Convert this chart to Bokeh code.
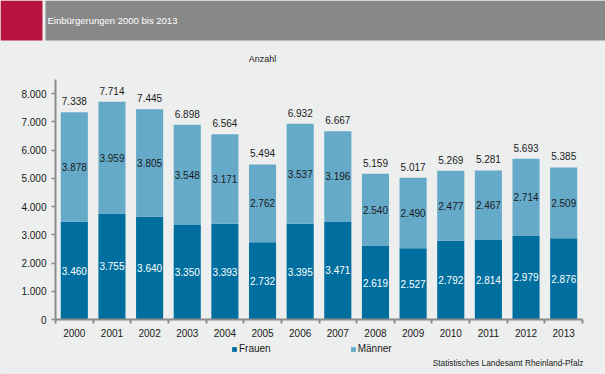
from bokeh.plotting import figure
from bokeh.models import ColumnDataSource, Range1d, FixedTicker, Label, Legend, LegendItem
from bokeh.layouts import column
from bokeh.embed import file_html
from bokeh.resources import INLINE
from bokeh.core.properties import value

# ---- data ----
years = ["2000", "2001", "2002", "2003", "2004", "2005", "2006",
         "2007", "2008", "2009", "2010", "2011", "2012", "2013"]
frauen = [3460, 3755, 3640, 3350, 3393, 2732, 3395, 3471, 2619, 2527, 2792, 2814, 2979, 2876]
maenner = [3878, 3959, 3805, 3548, 3171, 2762, 3537, 3196, 2540, 2490, 2477, 2467, 2714, 2509]
y_ticks = [0, 1000, 2000, 3000, 4000, 5000, 6000, 7000, 8000]
series_names = ["Frauen", "Männer"]

title_text = "Einbürgerungen 2000 bis 2013"
unit_text = "Anzahl"
source_text = "Statistisches Landesamt Rheinland-Pfalz"

# ---- style ----
BG = "#EDEFEE"
DARK = "#006FA0"
LIGHT = "#66AACA"
RED = "#B8133F"
GRAY = "#888888"
AXIS = "#8C8C8C"
TXT = "#1A1A1A"
FONT = "Liberation Sans"
W = 605


def de(n):
    return f"{n:,}".replace(",", ".")


def plain(fig):
    fig.grid.visible = False
    return fig


idx = list(range(len(years)))
total = [f + m for f, m in zip(frauen, maenner)]
src = ColumnDataSource(dict(
    x=idx, f=frauen, m=maenner, tot=total,
    fmid=[f / 2 for f in frauen],
    mmid=[f + m / 2 for f, m in zip(frauen, maenner)],
    flab=[de(v) for v in frauen],
    mlab=[de(v) for v in maenner],
    tlab=[de(v) for v in total],
))

# ---- header (title bar + unit) ----
HH = 79
header = plain(figure(width=W, height=HH, x_range=Range1d(0, W), y_range=Range1d(0, HH),
                      toolbar_location=None, output_backend="svg", min_border=0,
                      x_axis_location=None, y_axis_location=None,
                      background_fill_color=BG, border_fill_color=BG, outline_line_color=None))
header.frame_align = False
header.quad(left=[0], right=[42], bottom=[HH - 40], top=[HH], fill_color=RED, line_color=None)
header.quad(left=[45], right=[W], bottom=[HH - 40], top=[HH], fill_color=GRAY, line_color=None)
header.add_layout(Label(x=47, y=HH - 20, text=title_text, text_color="white",
                        text_font=FONT, text_font_size="9.5px", text_baseline="middle"))
header.add_layout(Label(x=262, y=HH - 58, text=unit_text, text_color=TXT, text_align="center",
                        text_font=FONT, text_font_size="9px", text_baseline="middle"))

# ---- chart ----
p = plain(figure(width=W, height=263, x_range=Range1d(-0.5, len(years) - 0.5), y_range=Range1d(0, 8500),
                 toolbar_location=None, output_backend="svg",
                 background_fill_color=BG, border_fill_color=BG, outline_line_color=None,
                 min_border_left=55, min_border_right=23, min_border_top=0, min_border_bottom=23))

rf = p.vbar(x="x", bottom=0, top="f", width=0.72, source=src, fill_color=DARK, line_color=None)
rm = p.vbar(x="x", bottom="f", top="tot", width=0.72, source=src, fill_color=LIGHT, line_color=None)

p.text(x="x", y="fmid", text="flab", source=src, text_align="center", text_baseline="middle",
       text_color="white", text_font=value(FONT), text_font_size="10px")
p.text(x="x", y="mmid", text="mlab", source=src, text_align="center", text_baseline="middle",
       text_color=TXT, text_font=value(FONT), text_font_size="10px")
p.text(x="x", y="tot", text="tlab", source=src, text_align="center", text_baseline="middle",
       y_offset=-11, text_color=TXT, text_font=value(FONT), text_font_size="10px")

xa = p.xaxis[0]
xa.ticker = FixedTicker(ticks=idx, minor_ticks=[i - 0.5 for i in range(len(years) + 1)])
xa.major_label_overrides = {i: y for i, y in zip(idx, years)}
xa.major_tick_line_color = None
xa.major_tick_out = 0
xa.major_tick_in = 0
xa.minor_tick_line_color = AXIS
xa.minor_tick_line_width = 2
xa.minor_tick_out = 4
xa.minor_tick_in = 0
xa.axis_line_color = AXIS
xa.axis_line_width = 2
xa.major_label_standoff = 5
xa.major_label_text_font = FONT
xa.major_label_text_font_size = "10px"
xa.major_label_text_color = TXT

ya = p.yaxis[0]
ya.ticker = FixedTicker(ticks=y_ticks)
ya.major_label_overrides = {t: de(t) for t in y_ticks}
ya.major_tick_line_color = AXIS
ya.major_tick_line_width = 1.5
ya.major_tick_out = 4
ya.major_tick_in = 0
ya.minor_tick_line_color = None
ya.axis_line_color = AXIS
ya.axis_line_width = 2
ya.major_label_standoff = 5
ya.major_label_text_font = FONT
ya.major_label_text_font_size = "10px"
ya.major_label_text_color = TXT

# ---- footer (legend + source) ----
FH = 32
footer = plain(figure(width=W, height=FH, x_range=Range1d(0, W), y_range=Range1d(0, FH),
                      toolbar_location=None, output_backend="svg", min_border=0,
                      x_axis_location=None, y_axis_location=None,
                      background_fill_color=BG, border_fill_color=BG, outline_line_color=None))
footer.frame_align = False
# off-view swatch renderers that only feed the legend
swatch = ColumnDataSource(dict(x=[-50], top=[1]))
lf = footer.vbar(x="x", top="top", width=1, source=swatch, fill_color=DARK, line_color=None)
lm = footer.vbar(x="x", top="top", width=1, source=swatch, fill_color=LIGHT, line_color=None)
legend = Legend(items=[LegendItem(label=series_names[0], renderers=[lf]),
                       LegendItem(label=series_names[1], renderers=[lm])],
                orientation="horizontal", location=(231, 20),
                glyph_width=6, glyph_height=6, label_standoff=2, spacing=79,
                padding=0, margin=0, border_line_color=None, background_fill_alpha=0,
                label_text_font=FONT, label_text_font_size="10px", label_height=10,
                label_text_color=TXT)
footer.add_layout(legend)
footer.add_layout(Label(x=583, y=FH - 20, text=source_text, text_color=TXT, text_align="right",
                        text_font=FONT, text_font_size="8.3px", text_baseline="middle"))

layout = column(header, p, footer, spacing=0, styles={"background-color": BG})
open("out.html", "w").write(file_html(layout, INLINE))
